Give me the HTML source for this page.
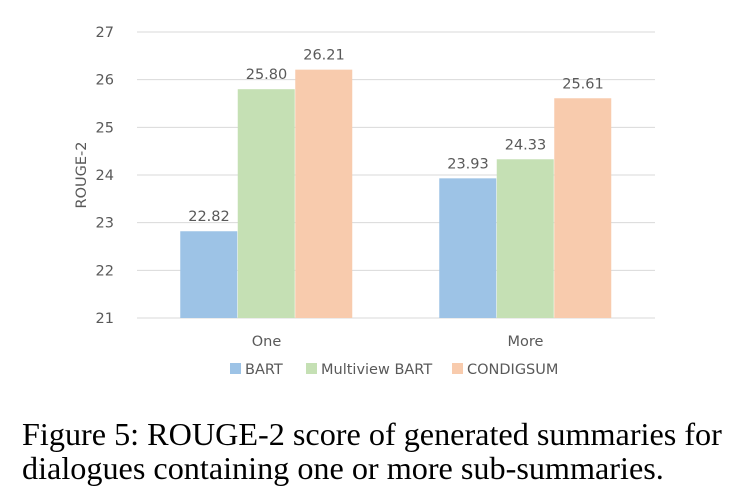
<!DOCTYPE html>
<html><head><meta charset="utf-8"><style>
body{margin:0;background:#fff;width:741px;height:503px;overflow:hidden}
svg text{font-family:"DejaVu Sans","Liberation Sans",sans-serif;fill:#595959}
.cap{position:absolute;left:22px;top:417px;font-family:"Liberation Serif",serif;font-size:32.2px;line-height:34px;color:#000;white-space:nowrap}
</style></head><body>
<svg width="741" height="503" style="position:absolute;left:0;top:0">
<g id="grid"></g><g id="bars"></g><g id="labels"></g>
<text x="86" y="175" font-size="14.5" transform="rotate(-90 86 175)" text-anchor="middle">ROUGE-2</text>
<g>
<rect x="230" y="363" width="11" height="11" fill="#9dc3e6"/>
<text x="245" y="374" font-size="14.5">BART</text>
<rect x="306" y="363" width="11" height="11" fill="#c5e0b4"/>
<text x="321" y="374" font-size="14.5">Multiview BART</text>
<rect x="452" y="363" width="11" height="11" fill="#f8cbad"/>
<text x="467" y="374" font-size="14.5">CONDIGSUM</text>
</g>
</svg>
<div class="cap">Figure 5: ROUGE-2 score of generated summaries for<br>dialogues containing one or more sub-summaries.</div>
<script>
const categories=["One","More"];
const bart=[22.82,23.93];
const multiview=[25.80,24.33];
const condigsum=[26.21,25.61];
const yTicks=[21,22,23,24,25,26,27];
const NS="http://www.w3.org/2000/svg";
const x0=137,x1=655,yTop=32,yBot=318,yMin=21,yMax=27;
function yS(v){return yBot-(v-yMin)/(yMax-yMin)*(yBot-yTop);}
function xC(i){return x0+(i+0.5)*(x1-x0)/categories.length;}
function mk(t,a,p){const e=document.createElementNS(NS,t);for(const k in a)e.setAttribute(k,a[k]);p.appendChild(e);return e;}
const g=document.getElementById('grid'),b=document.getElementById('bars'),l=document.getElementById('labels');
yTicks.forEach(t=>{
 const ln=mk('line',{x1:x0,x2:x1,y1:yS(t),y2:yS(t),stroke:'#d9d9d9','stroke-width':1},g);
 
 
 const tx=mk('text',{x:114,y:yS(t)+5,'font-size':14.5,'text-anchor':'end'},g);tx.textContent=t;
 
 
});
const series=[[bart,'#9dc3e6','bart'],[multiview,'#c5e0b4','multiview'],[condigsum,'#f8cbad','condigsum']];
const bw=57.5;
categories.forEach((c,i)=>{
 const cx=xC(i);
 series.forEach((s,j)=>{
  const v=s[0][i],x=cx-1.5*bw+j*bw;
  const r=mk('rect',{x:x,y:yS(v),width:bw-0.5,height:yBot-yS(v),fill:s[1]},b);
  
  
  const t=mk('text',{x:x+bw/2,y:yS(v)-10,'font-size':14.5,'text-anchor':'middle'},l);t.textContent=v.toFixed(2);
  
  
 });
 const ct=mk('text',{x:cx,y:346,'font-size':14.5,'text-anchor':'middle'},l);ct.textContent=c;
 
 
});
</script>
</body></html>
